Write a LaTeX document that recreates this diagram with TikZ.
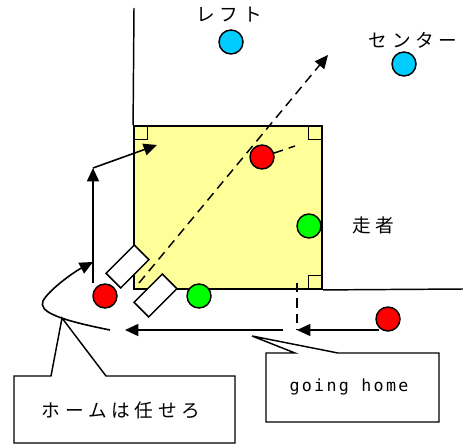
\documentclass[tikz,border=0pt]{standalone}
\usepackage{fontspec}
\usetikzlibrary{arrows.meta, positioning, calc}
\newfontfamily\jpfont[LetterSpace=25]{Noto Sans CJK JP}
\newfontfamily\notefont[LetterSpace=14]{DejaVu Sans Mono}
\definecolor{fieldyellow}{HTML}{FFFF99}
\definecolor{runnerred}{HTML}{FF0000}
\definecolor{fieldergreen}{HTML}{00FF00}
\definecolor{outfieldblue}{HTML}{00CCFF}

\begin{document}
\begin{tikzpicture}[
  x=0.75pt, y=-0.75pt,
  every node/.style={font=\jpfont\fontsize{14}{16}\selectfont},
  line/.style={line width=1.1pt},
  flow/.style={line width=1.2pt, -{Triangle[length=10pt,width=9pt]}},
  hint/.style={line width=1.1pt, dash pattern=on 7pt off 4.5pt},
  field/.style={rectangle, draw, line width=1.4pt, fill=fieldyellow,
                minimum width=141pt, minimum height=122.25pt, inner sep=0pt},
  corner/.style={line width=0.8pt},
  player/.style={circle, draw, line width=1.1pt, minimum size=18pt, inner sep=0pt},
  runner/.style={player, fill=runnerred},
  fielder/.style={player, fill=fieldergreen},
  outfielder/.style={player, fill=outfieldblue},
  box/.style={rectangle, draw, line width=1.1pt, fill=white, rotate=45,
              minimum width=30pt, minimum height=15.5pt, inner sep=0pt},
  callout/.style={line width=1.1pt, fill=white},
]
  \useasboundingbox (0,0) rectangle (463,445);

  % field
  \node[field] (field) at (228,207.5) {};
  \draw[line] (field.north west) -- (134,8);
  \draw[line] (field.south east) -- (463,289);
  \draw[corner] (field.north west) rectangle ++(14,14);
  \draw[corner] (field.north east) rectangle ++(-14,14);
  \draw[corner] (field.south east) rectangle ++(-14,-14);

  % boxes at home
  \node[box] (boxA) at (127.5,266.5) {};
  \node[box] (boxB) at (155.5,295.5) {};

  % dashed lines
  \coordinate (throwStart) at (139,283);
  \coordinate (throwTip) at (328,55);
  \coordinate (leadEnd) at (295,146);
  \coordinate (cutTop) at (297,283);
  \coordinate (cutEnd) at (297,330);
  \draw[hint, -{Triangle[length=10pt,width=9pt]}] (throwStart) -- (throwTip);
  \draw[hint] (cutTop) -- (cutEnd);

  % players
  \node[runner] (r1) at (105,296) {};
  \node[runner] (r2) at (262,157) {};
  \node[runner] (r3) at (388,319) {};
  \node[fielder] (f1) at (199,296) {};
  \node[fielder] (f2) at (309,226) {};
  \node[outfielder] (leftfield) at (231,42) {};
  \node[outfielder] (centerfield) at (404,64) {};
  \draw[hint] (r2.18) -- (leadEnd);

  \node (leftname) at (229,15) {レフト};
  \node (centername) at (413,40) {センター};
  \node (runnername) at (373,225) {走者};

  % moves
  \coordinate (stepA) at (93,283);
  \coordinate (turn) at (93,168);
  \coordinate (tagup) at (157,145);
  \draw[flow] (stepA) -- (turn);
  \draw[flow] (turn) -- (tagup);

  \coordinate (swingEnd) at (110,330);
  \coordinate (swingTip) at (93,262);
  \draw[flow] (swingEnd) .. controls (60,320) and (38,312) .. (43,301)
    .. controls (48,291) and (72,273) .. (swingTip);

  \coordinate (homeStart) at (283,330);
  \coordinate (homeTip) at (125,330);
  \draw[flow] (homeStart) -- (homeTip);
  \draw[flow] (r3.225 |- cutEnd) -- (cutEnd);

  % callouts
  \draw[callout] (14,376) -- (51,376) -- (62,318) -- (106,376) -- (235,376)
    -- (235,443) -- (14,443) -- cycle;
  \node (homenote) at (121,410) {ホームは任せろ};

  \draw[callout] (266,353) -- (295,353) -- (252,336) -- (338,353) -- (439,353)
    -- (439,422) -- (266,422) -- cycle;
  \node[font=\notefont\fontsize{12.5}{14}\selectfont] (gonote) at (349,387) {going home};
\end{tikzpicture}
\end{document}
